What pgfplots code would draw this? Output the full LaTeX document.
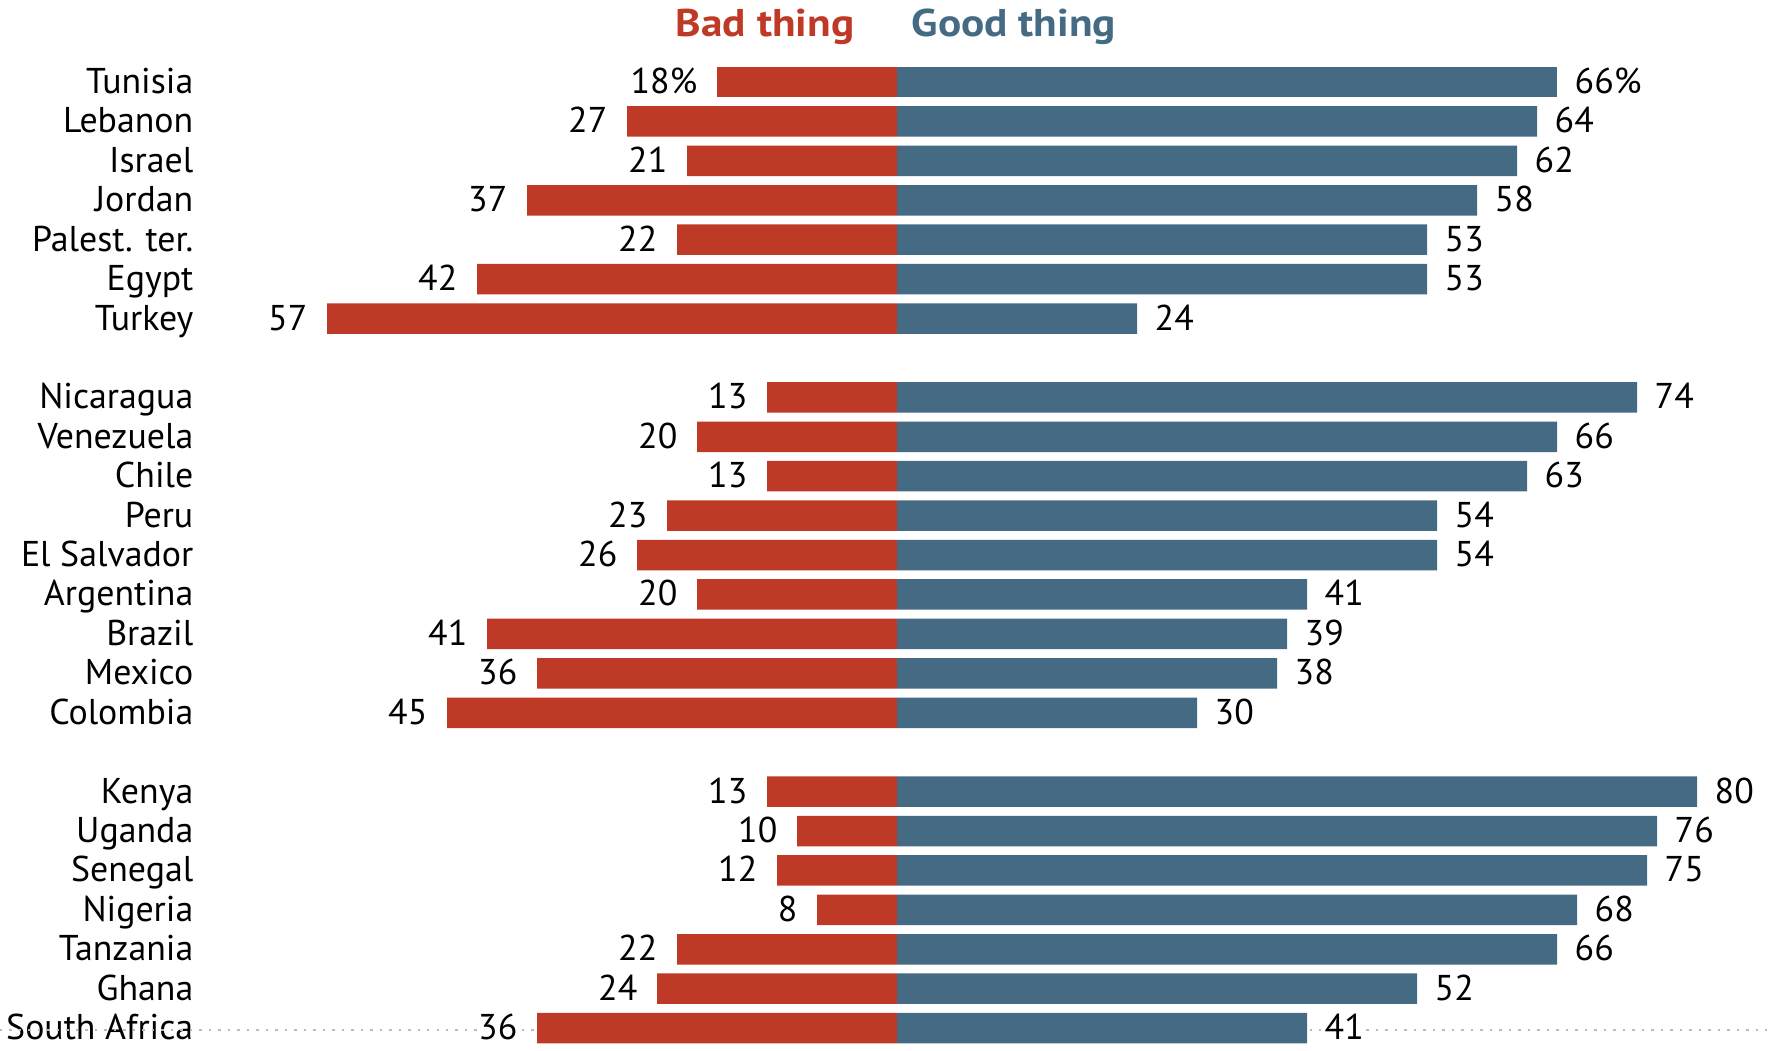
\documentclass[border=0pt]{standalone}
\usepackage{pgfplots}
\pgfplotsset{compat=1.18}
\usepackage{pgfplotstable}
\usepackage{fontspec}
\setmainfont{PT Sans}
\newfontfamily\headfont[FakeStretch=1.12]{PT Sans}
\definecolor{badred}{RGB}{190,58,38}
\definecolor{goodblue}{RGB}{69,106,132}
\pgfplotstableread{
pos bad good
1 27 64
2 21 62
3 37 58
4 22 53
5 42 53
6 57 24
8 13 74
9 20 66
10 13 63
11 23 54
12 26 54
13 20 41
14 41 39
15 36 38
16 45 30
18 13 80
19 10 76
20 12 75
21 8 68
22 22 66
23 24 52
24 36 41
}\data
\pgfplotstableread{
pos bad good
0 18 66
}\first
\tikzset{
  badlab/.style={anchor=base east, inner sep=0pt, text depth=0pt, xshift=-1.9mm, yshift=-1.15mm, text=black, fill=white, font=\fontsize{10.2}{12}\selectfont},
  goodlab/.style={anchor=base west, inner sep=0pt, text depth=0pt, xshift=1.7mm, yshift=-1.15mm, text=black, fill=white, font=\fontsize{10.2}{12}\selectfont},
}
\begin{document}
\begin{tikzpicture}
\begin{axis}[
  scale only axis, width=17.71cm, height=10.51cm,
  xmin=-89.7, xmax=87.4, ymin=-2.08, ymax=24.58, y dir=reverse,
  axis line style={draw=none}, major tick length=0pt,
  xtick=\empty,
  ytick={0,1,2,3,4,5,6,8,9,10,11,12,13,14,15,16,18,19,20,21,22,23,24},
  yticklabels={Tunisia,Lebanon,Israel,Jordan,Palest. ter.,Egypt,Turkey,Nicaragua,Venezuela,Chile,Peru,El Salvador,Argentina,Brazil,Mexico,Colombia,Kenya,Uganda,Senegal,Nigeria,Tanzania,Ghana,South Africa},
  yticklabel style={anchor=base east, inner sep=0pt, text depth=0pt, xshift=19.4mm, yshift=-1.15mm, fill=white, font=\fontsize{10.2}{12}\selectfont},
  /pgf/number format/assume math mode=true,
  xbar, bar width=3.05mm, bar shift=0pt,
  clip=false,
]
\addplot[sharp plot, gray!55, dotted, line width=0.7pt, forget plot] coordinates {(-89.7,24.05) (87.4,24.05)};
\addplot[fill=badred, draw=none, point meta=explicit, nodes near coords,
  every node near coord/.style={badlab}]
  table[x expr=-\thisrow{bad}, y=pos, meta=bad]{\data};
\addplot[fill=goodblue, draw=none, point meta=explicit, nodes near coords,
  every node near coord/.style={goodlab}]
  table[x=good, y=pos, meta=good]{\data};
\addplot[fill=badred, draw=none, point meta=explicit, nodes near coords={\pgfmathprintnumber{\pgfplotspointmeta}\%},
  every node near coord/.style={badlab}]
  table[x expr=-\thisrow{bad}, y=pos, meta=bad]{\first};
\addplot[fill=goodblue, draw=none, point meta=explicit, nodes near coords={\pgfmathprintnumber{\pgfplotspointmeta}\%},
  every node near coord/.style={goodlab}]
  table[x=good, y=pos, meta=good]{\first};
\node[anchor=base east, inner sep=0pt, text=badred, font=\headfont\bfseries\fontsize{11}{12}\selectfont] at (axis cs:-4.2,-1.155) {Bad thing};
\node[anchor=base west, inner sep=0pt, text=goodblue, font=\headfont\bfseries\fontsize{11}{12}\selectfont] at (axis cs:1.4,-1.155) {Good thing};
\end{axis}
\pgfresetboundingbox
\path[use as bounding box] (current axis.south west) rectangle (current axis.north east);
\end{tikzpicture}
\end{document}
